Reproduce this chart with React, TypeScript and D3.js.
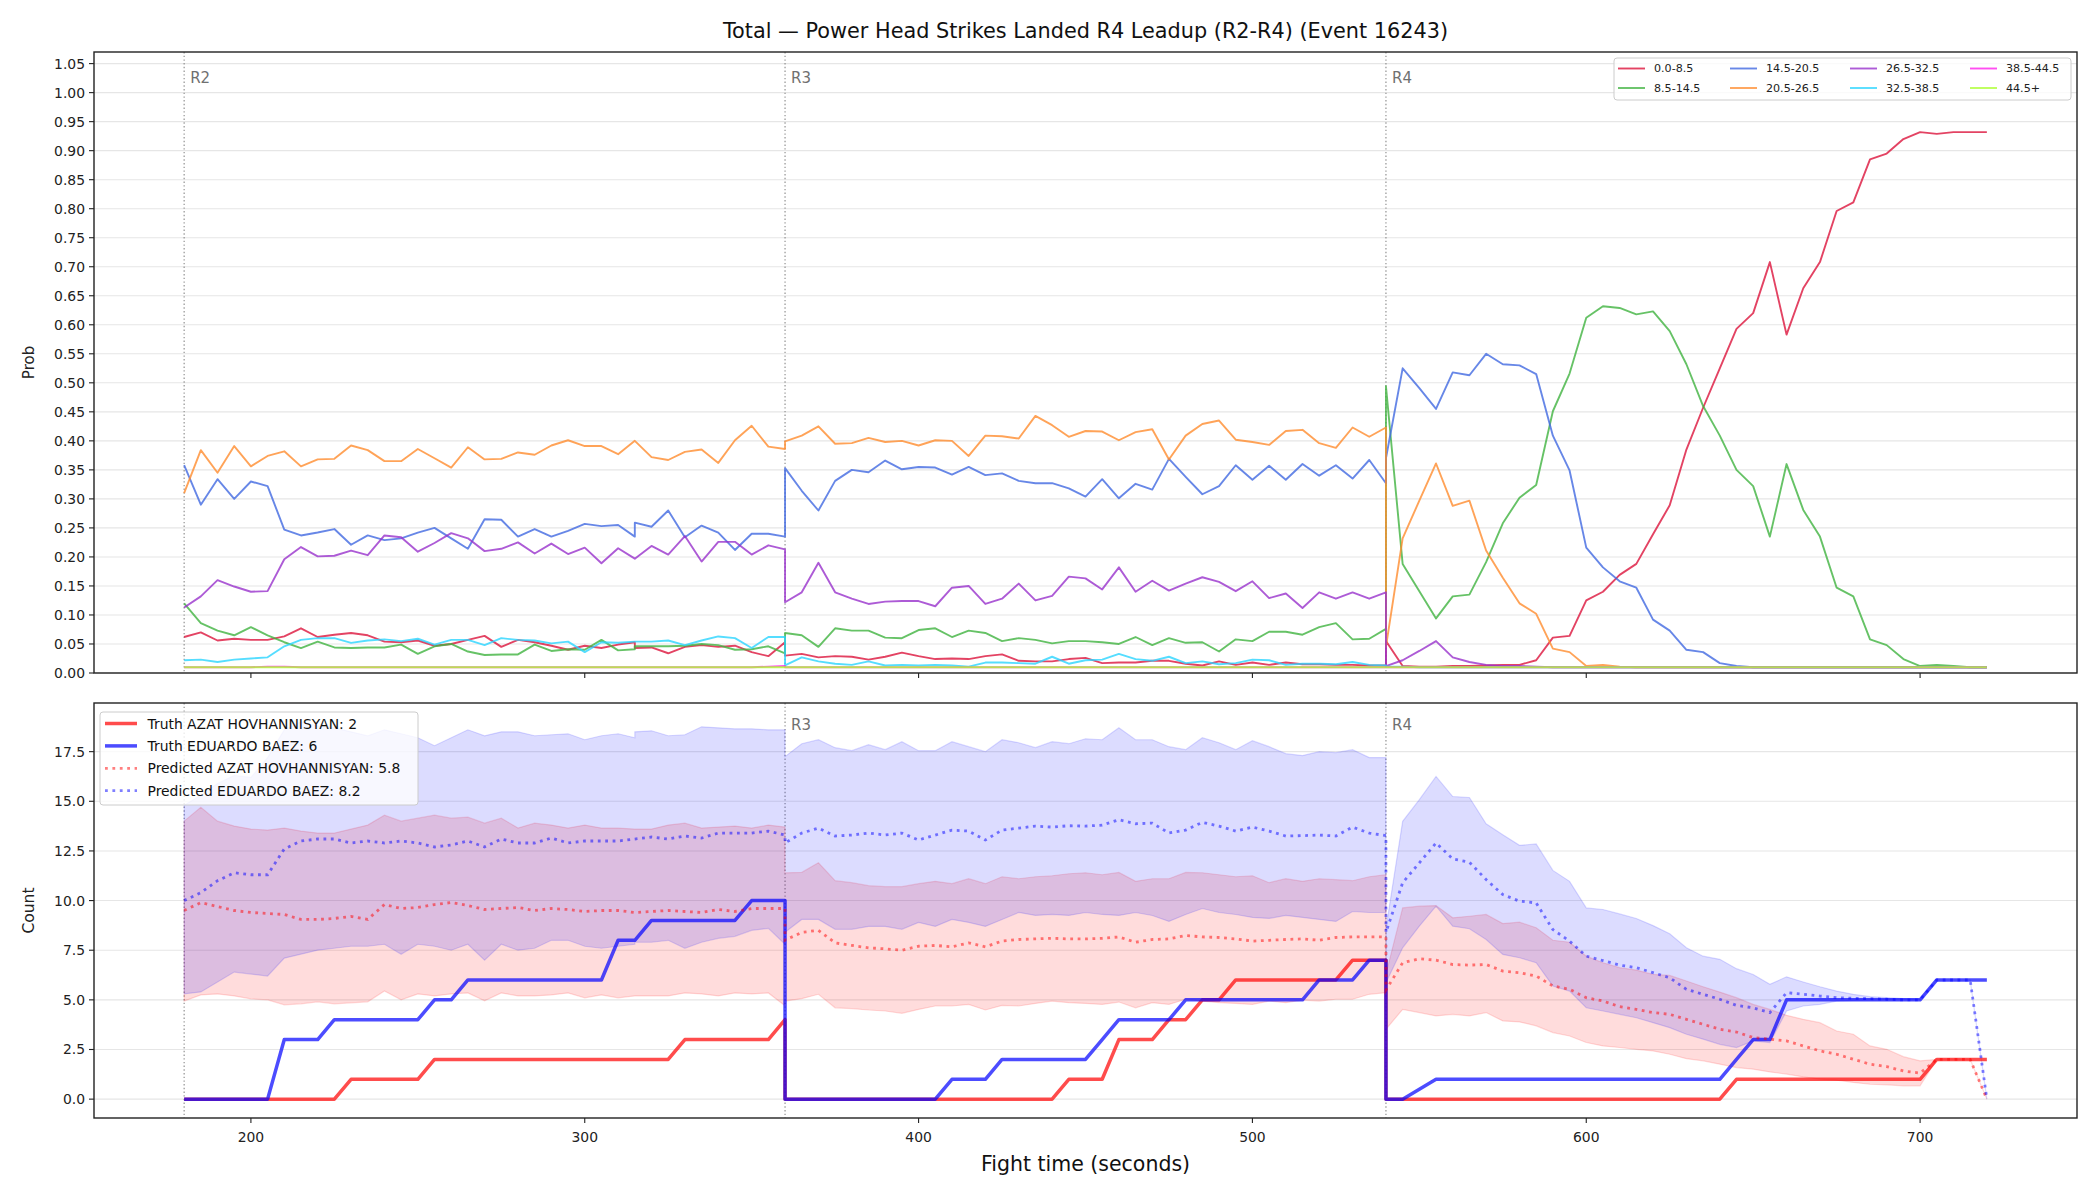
import * as d3 from "d3";

// sample times per round (the R2 feed logged 315 s twice)
const r2Times = [180, 185, 190, 195, 200, 205, 210, 215, 220, 225, 230, 235, 240, 245, 250, 255, 260, 265, 270, 275, 280, 285, 290, 295, 300, 305, 310, 315, 315, 320, 325, 330, 335, 340, 345, 350, 355, 360];
const r3Times = [360, 365, 370, 375, 380, 385, 390, 395, 400, 405, 410, 415, 420, 425, 430, 435, 440, 445, 450, 455, 460, 465, 470, 475, 480, 485, 490, 495, 500, 505, 510, 515, 520, 525, 530, 535, 540];
const r4Times = [540, 545, 550, 555, 560, 565, 570, 575, 580, 585, 590, 595, 600, 605, 610, 615, 620, 625, 630, 635, 640, 645, 650, 655, 660, 665, 670, 675, 680, 685, 690, 695, 700, 705, 710, 715, 720];

const roundStarts = [180, 360, 540];
const roundNames = ["R2", "R3", "R4"];

const probBins = ["0.0-8.5", "8.5-14.5", "14.5-20.5", "20.5-26.5", "26.5-32.5", "32.5-38.5", "38.5-44.5", "44.5+"];
const binColors = ["#dc143c", "#40b340", "#4169e1", "#ff8c2e", "#9932cc", "#2ad4ff", "#ff22ee", "#adff2f"];

// probability per total-strikes bin, round 2
const bin0R2 = [0.062, 0.070, 0.056, 0.059, 0.057, 0.057, 0.063, 0.077, 0.062, 0.066, 0.069, 0.065, 0.054, 0.053, 0.056, 0.047, 0.050, 0.057, 0.064, 0.045, 0.057, 0.053, 0.047, 0.040, 0.047, 0.043, 0.049, 0.053, 0.043, 0.044, 0.034, 0.045, 0.048, 0.045, 0.047, 0.036, 0.029, 0.053];
const bin1R2 = [0.120, 0.086, 0.073, 0.065, 0.079, 0.065, 0.053, 0.043, 0.054, 0.044, 0.043, 0.044, 0.044, 0.049, 0.033, 0.046, 0.050, 0.037, 0.031, 0.032, 0.032, 0.049, 0.038, 0.041, 0.040, 0.057, 0.039, 0.041, 0.046, 0.046, 0.046, 0.047, 0.050, 0.048, 0.040, 0.041, 0.046, 0.034];
const bin2R2 = [0.358, 0.290, 0.334, 0.300, 0.330, 0.322, 0.247, 0.237, 0.242, 0.248, 0.221, 0.237, 0.229, 0.232, 0.242, 0.250, 0.232, 0.214, 0.265, 0.264, 0.235, 0.248, 0.235, 0.245, 0.257, 0.253, 0.255, 0.235, 0.259, 0.252, 0.280, 0.234, 0.254, 0.242, 0.212, 0.240, 0.240, 0.235];
const bin3R2 = [0.310, 0.384, 0.345, 0.391, 0.356, 0.374, 0.382, 0.356, 0.368, 0.369, 0.392, 0.384, 0.365, 0.365, 0.386, 0.370, 0.354, 0.389, 0.368, 0.369, 0.380, 0.376, 0.392, 0.401, 0.391, 0.391, 0.377, 0.400, 0.400, 0.372, 0.367, 0.381, 0.385, 0.362, 0.401, 0.426, 0.390, 0.386];
const bin4R2 = [0.113, 0.132, 0.160, 0.149, 0.140, 0.141, 0.196, 0.217, 0.201, 0.202, 0.211, 0.203, 0.237, 0.234, 0.209, 0.224, 0.241, 0.232, 0.210, 0.214, 0.225, 0.206, 0.223, 0.205, 0.216, 0.189, 0.215, 0.197, 0.197, 0.219, 0.204, 0.236, 0.192, 0.226, 0.226, 0.204, 0.220, 0.213];
const bin5R2 = [0.022, 0.023, 0.019, 0.023, 0.025, 0.027, 0.046, 0.057, 0.060, 0.060, 0.052, 0.056, 0.058, 0.055, 0.059, 0.049, 0.057, 0.057, 0.048, 0.060, 0.057, 0.056, 0.051, 0.054, 0.036, 0.053, 0.052, 0.054, 0.054, 0.054, 0.056, 0.048, 0.056, 0.063, 0.060, 0.043, 0.062, 0.062];
const bin6R2 = [0.010, 0.010, 0.010, 0.010, 0.010, 0.011, 0.011, 0.010, 0.010, 0.010, 0.010, 0.010, 0.010, 0.010, 0.010, 0.010, 0.010, 0.010, 0.010, 0.010, 0.010, 0.010, 0.010, 0.010, 0.010, 0.010, 0.010, 0.010, 0.010, 0.010, 0.010, 0.010, 0.010, 0.010, 0.010, 0.010, 0.011, 0.012];
const bin7R2 = [0.010, 0.010, 0.010, 0.010, 0.010, 0.010, 0.010, 0.010, 0.010, 0.010, 0.010, 0.010, 0.010, 0.010, 0.010, 0.010, 0.010, 0.010, 0.010, 0.010, 0.010, 0.010, 0.010, 0.010, 0.010, 0.010, 0.010, 0.010, 0.010, 0.010, 0.010, 0.010, 0.010, 0.010, 0.010, 0.010, 0.010, 0.010];

// round 3
const bin0R3 = [0.030, 0.033, 0.027, 0.029, 0.028, 0.023, 0.028, 0.035, 0.029, 0.024, 0.025, 0.024, 0.029, 0.032, 0.021, 0.020, 0.020, 0.024, 0.026, 0.017, 0.018, 0.018, 0.021, 0.021, 0.016, 0.013, 0.020, 0.014, 0.018, 0.014, 0.018, 0.015, 0.015, 0.014, 0.014, 0.013, 0.013];
const bin1R3 = [0.069, 0.065, 0.045, 0.077, 0.073, 0.073, 0.061, 0.060, 0.074, 0.077, 0.062, 0.073, 0.069, 0.055, 0.060, 0.057, 0.051, 0.055, 0.055, 0.053, 0.050, 0.062, 0.048, 0.060, 0.052, 0.053, 0.037, 0.058, 0.055, 0.071, 0.071, 0.066, 0.079, 0.086, 0.058, 0.059, 0.076];
const bin2R3 = [0.353, 0.314, 0.280, 0.331, 0.350, 0.346, 0.366, 0.351, 0.355, 0.354, 0.342, 0.355, 0.341, 0.344, 0.331, 0.327, 0.327, 0.318, 0.304, 0.334, 0.301, 0.326, 0.316, 0.369, 0.338, 0.308, 0.322, 0.358, 0.333, 0.357, 0.333, 0.360, 0.340, 0.358, 0.335, 0.367, 0.327];
const bin3R3 = [0.399, 0.409, 0.425, 0.395, 0.396, 0.405, 0.398, 0.400, 0.392, 0.401, 0.400, 0.374, 0.409, 0.408, 0.404, 0.443, 0.427, 0.407, 0.417, 0.416, 0.401, 0.415, 0.420, 0.368, 0.409, 0.429, 0.435, 0.402, 0.398, 0.393, 0.417, 0.419, 0.396, 0.388, 0.423, 0.407, 0.423];
const bin4R3 = [0.122, 0.139, 0.190, 0.139, 0.128, 0.119, 0.123, 0.124, 0.124, 0.115, 0.147, 0.150, 0.119, 0.128, 0.154, 0.125, 0.133, 0.166, 0.163, 0.144, 0.182, 0.140, 0.159, 0.142, 0.154, 0.165, 0.157, 0.141, 0.158, 0.129, 0.137, 0.112, 0.139, 0.128, 0.139, 0.128, 0.139];
const bin5R3 = [0.013, 0.027, 0.020, 0.016, 0.014, 0.020, 0.013, 0.014, 0.013, 0.014, 0.013, 0.011, 0.018, 0.018, 0.017, 0.016, 0.028, 0.016, 0.022, 0.023, 0.033, 0.024, 0.021, 0.028, 0.017, 0.020, 0.015, 0.017, 0.023, 0.022, 0.014, 0.016, 0.016, 0.015, 0.019, 0.014, 0.013];
const bin6R3 = [0.010, 0.010, 0.010, 0.010, 0.010, 0.010, 0.010, 0.010, 0.010, 0.010, 0.010, 0.010, 0.010, 0.010, 0.010, 0.010, 0.010, 0.010, 0.010, 0.010, 0.010, 0.010, 0.010, 0.010, 0.010, 0.010, 0.010, 0.010, 0.010, 0.010, 0.010, 0.010, 0.010, 0.010, 0.010, 0.010, 0.010];
const bin7R3 = [0.010, 0.010, 0.010, 0.010, 0.010, 0.010, 0.010, 0.010, 0.010, 0.010, 0.010, 0.010, 0.010, 0.010, 0.010, 0.010, 0.010, 0.010, 0.010, 0.010, 0.010, 0.010, 0.010, 0.010, 0.010, 0.010, 0.010, 0.010, 0.010, 0.010, 0.010, 0.010, 0.010, 0.010, 0.010, 0.010, 0.010];

// round 4
const bin0R4 = [0.055, 0.012, 0.011, 0.011, 0.012, 0.012, 0.013, 0.014, 0.014, 0.022, 0.061, 0.064, 0.125, 0.140, 0.169, 0.188, 0.239, 0.289, 0.385, 0.457, 0.525, 0.593, 0.620, 0.708, 0.583, 0.663, 0.708, 0.796, 0.811, 0.885, 0.895, 0.920, 0.932, 0.929, 0.932, 0.932, 0.932];
const bin1R4 = [0.494, 0.188, 0.141, 0.094, 0.132, 0.135, 0.191, 0.258, 0.302, 0.324, 0.451, 0.516, 0.612, 0.632, 0.629, 0.618, 0.623, 0.589, 0.532, 0.460, 0.409, 0.350, 0.322, 0.235, 0.360, 0.281, 0.235, 0.147, 0.132, 0.058, 0.048, 0.024, 0.012, 0.014, 0.012, 0.010, 0.010];
const bin2R4 = [0.370, 0.525, 0.491, 0.455, 0.518, 0.513, 0.550, 0.532, 0.530, 0.515, 0.409, 0.349, 0.216, 0.182, 0.158, 0.147, 0.092, 0.073, 0.040, 0.036, 0.017, 0.012, 0.010, 0.010, 0.010, 0.010, 0.010, 0.010, 0.010, 0.010, 0.010, 0.010, 0.010, 0.010, 0.010, 0.010, 0.010];
const bin3R4 = [0.045, 0.232, 0.297, 0.361, 0.288, 0.297, 0.211, 0.164, 0.120, 0.102, 0.042, 0.036, 0.012, 0.014, 0.011, 0.010, 0.010, 0.010, 0.010, 0.010, 0.010, 0.010, 0.010, 0.010, 0.010, 0.010, 0.010, 0.010, 0.010, 0.010, 0.010, 0.010, 0.010, 0.010, 0.010, 0.010, 0.010];
const bin4R4 = [0.012, 0.022, 0.038, 0.055, 0.027, 0.019, 0.014, 0.012, 0.012, 0.011, 0.010, 0.010, 0.010, 0.010, 0.010, 0.010, 0.010, 0.010, 0.010, 0.010, 0.010, 0.010, 0.010, 0.010, 0.010, 0.010, 0.010, 0.010, 0.010, 0.010, 0.010, 0.010, 0.010, 0.010, 0.010, 0.010, 0.010];
const bin5R4 = [0.011, 0.011, 0.010, 0.010, 0.010, 0.010, 0.010, 0.010, 0.010, 0.010, 0.010, 0.010, 0.010, 0.010, 0.010, 0.010, 0.010, 0.010, 0.010, 0.010, 0.010, 0.010, 0.010, 0.010, 0.010, 0.010, 0.010, 0.010, 0.010, 0.010, 0.010, 0.010, 0.010, 0.010, 0.010, 0.010, 0.010];
const bin6R4 = [0.010, 0.010, 0.010, 0.010, 0.010, 0.010, 0.010, 0.010, 0.010, 0.010, 0.010, 0.010, 0.010, 0.010, 0.010, 0.010, 0.010, 0.010, 0.010, 0.010, 0.010, 0.010, 0.010, 0.010, 0.010, 0.010, 0.010, 0.010, 0.010, 0.010, 0.010, 0.010, 0.010, 0.010, 0.010, 0.010, 0.010];
const bin7R4 = [0.010, 0.010, 0.010, 0.010, 0.010, 0.010, 0.010, 0.010, 0.010, 0.010, 0.010, 0.010, 0.010, 0.010, 0.010, 0.010, 0.010, 0.010, 0.010, 0.010, 0.010, 0.010, 0.010, 0.010, 0.010, 0.010, 0.010, 0.010, 0.010, 0.010, 0.010, 0.010, 0.010, 0.010, 0.010, 0.010, 0.010];

// cumulative counts, Hovhannisyan (red) and Baez (blue)
const azatTruthR2 = [0, 0, 0, 0, 0, 0, 0, 0, 0, 0, 1, 1, 1, 1, 1, 2, 2, 2, 2, 2, 2, 2, 2, 2, 2, 2, 2, 2, 2, 2, 2, 3, 3, 3, 3, 3, 3, 4];
const baezTruthR2 = [0, 0, 0, 0, 0, 0, 3, 3, 3, 4, 4, 4, 4, 4, 4, 5, 5, 6, 6, 6, 6, 6, 6, 6, 6, 6, 8, 8, 8, 9, 9, 9, 9, 9, 9, 10, 10, 10];
const azatPredR2 = [9.5, 9.9, 9.7, 9.5, 9.4, 9.35, 9.3, 9.05, 9.05, 9.1, 9.2, 9.05, 9.8, 9.6, 9.65, 9.8, 9.9, 9.75, 9.55, 9.6, 9.65, 9.5, 9.6, 9.55, 9.45, 9.5, 9.5, 9.4, 9.4, 9.45, 9.5, 9.45, 9.4, 9.55, 9.45, 9.6, 9.6, 9.6];
const baezPredR2 = [10.0, 10.4, 11.0, 11.4, 11.3, 11.3, 12.6, 13.0, 13.1, 13.1, 12.9, 13.0, 12.9, 13.0, 12.9, 12.7, 12.8, 13.0, 12.7, 13.1, 12.9, 12.9, 13.15, 12.9, 13.0, 13.0, 13.0, 13.1, 13.1, 13.2, 13.1, 13.25, 13.15, 13.4, 13.4, 13.4, 13.5, 13.3];
const azatLowR2 = [4.94, 5.25, 5.3, 5.2, 5.05, 5.0, 4.75, 4.8, 4.9, 4.8, 4.85, 4.9, 5.45, 5.0, 5.3, 5.2, 5.3, 5.35, 4.95, 5.35, 5.2, 5.2, 5.25, 5.35, 5.1, 5.25, 5.1, 5.2, 5.2, 5.2, 5.2, 5.35, 5.3, 5.2, 5.35, 5.3, 5.35, 4.7];
const azatHighR2 = [14.0, 14.7, 14.0, 13.75, 13.6, 13.55, 13.65, 13.5, 13.4, 13.4, 13.6, 13.8, 14.3, 14.0, 14.15, 14.3, 14.15, 14.2, 13.9, 14.15, 13.65, 13.9, 13.8, 13.65, 13.8, 13.65, 13.65, 13.6, 13.6, 13.6, 13.8, 13.9, 13.65, 13.7, 13.75, 13.65, 13.8, 13.7];
const baezLowR2 = [5.3, 5.4, 5.9, 6.4, 6.3, 6.2, 7.1, 7.3, 7.5, 7.6, 7.7, 7.7, 7.8, 7.3, 7.8, 7.7, 7.5, 7.8, 7.0, 7.8, 7.5, 7.6, 8.0, 8.0, 7.7, 7.6, 7.7, 7.8, 7.9, 7.9, 8.0, 7.6, 7.9, 8.1, 8.2, 8.5, 8.6, 7.8];
const baezHighR2 = [14.8, 15.3, 15.9, 16.3, 16.2, 17.2, 18.6, 19.0, 18.8, 18.7, 18.5, 18.3, 18.6, 18.4, 18.2, 17.8, 18.2, 18.6, 18.3, 18.5, 18.5, 18.3, 18.35, 18.4, 18.1, 18.3, 18.4, 18.2, 18.5, 18.55, 18.3, 18.35, 18.75, 18.7, 18.65, 18.65, 18.6, 18.6];

const azatTruthR3 = [0, 0, 0, 0, 0, 0, 0, 0, 0, 0, 0, 0, 0, 0, 0, 0, 0, 1, 1, 1, 3, 3, 3, 4, 4, 5, 5, 6, 6, 6, 6, 6, 6, 6, 7, 7, 7];
const baezTruthR3 = [0, 0, 0, 0, 0, 0, 0, 0, 0, 0, 1, 1, 1, 2, 2, 2, 2, 2, 2, 3, 4, 4, 4, 4, 5, 5, 5, 5, 5, 5, 5, 5, 6, 6, 6, 7, 7];
const azatPredR3 = [8.0, 8.4, 8.5, 7.87, 7.74, 7.62, 7.57, 7.5, 7.7, 7.74, 7.67, 7.87, 7.67, 7.96, 8.04, 8.07, 8.1, 8.07, 8.07, 8.1, 8.17, 7.9, 8.04, 8.07, 8.24, 8.17, 8.14, 8.07, 7.96, 8.0, 8.04, 8.07, 8.0, 8.14, 8.17, 8.17, 8.17];
const baezPredR3 = [12.9, 13.4, 13.65, 13.25, 13.3, 13.4, 13.3, 13.4, 13.05, 13.3, 13.55, 13.5, 13.05, 13.55, 13.65, 13.75, 13.7, 13.77, 13.75, 13.8, 14.07, 13.87, 13.9, 13.4, 13.55, 13.94, 13.75, 13.5, 13.7, 13.5, 13.25, 13.27, 13.3, 13.25, 13.7, 13.4, 13.27];
const azatLowR3 = [4.94, 5.06, 5.28, 4.6, 4.56, 4.49, 4.44, 4.32, 4.52, 4.69, 4.69, 4.77, 4.49, 4.72, 4.69, 4.82, 4.94, 4.86, 4.82, 4.77, 4.89, 4.6, 4.86, 4.77, 5.03, 4.94, 4.86, 4.82, 4.77, 4.94, 4.86, 4.99, 4.94, 5.03, 5.03, 5.28, 5.36];
const azatHighR3 = [11.4, 11.42, 11.9, 11.0, 10.9, 10.75, 10.7, 10.7, 10.85, 10.97, 10.85, 11.1, 10.85, 11.2, 11.1, 11.2, 11.25, 11.35, 11.4, 11.3, 11.42, 10.97, 11.1, 11.1, 11.42, 11.4, 11.3, 11.2, 11.25, 10.9, 11.1, 10.97, 11.1, 11.05, 11.0, 11.2, 11.3];
const baezLowR3 = [8.4, 9.05, 9.05, 8.55, 8.55, 8.7, 8.7, 8.55, 8.9, 8.7, 9.05, 8.9, 8.7, 9.05, 9.4, 9.25, 9.3, 9.25, 9.4, 9.3, 9.25, 9.4, 9.25, 8.95, 9.3, 9.6, 9.4, 9.3, 9.15, 9.1, 9.25, 9.15, 9.05, 8.95, 9.45, 9.4, 9.4];
const baezHighR3 = [17.25, 17.9, 18.1, 17.7, 17.55, 17.85, 17.6, 18.0, 17.55, 17.55, 18.0, 17.75, 17.5, 18.1, 17.95, 17.7, 18.0, 17.9, 18.15, 18.1, 18.7, 18.1, 18.1, 17.75, 17.6, 18.2, 17.95, 17.6, 18.05, 17.75, 17.4, 17.3, 17.5, 17.45, 17.6, 17.2, 17.2];

const azatTruthR4 = [0, 0, 0, 0, 0, 0, 0, 0, 0, 0, 0, 0, 0, 0, 0, 0, 0, 0, 0, 0, 0, 1, 1, 1, 1, 1, 1, 1, 1, 1, 1, 1, 1, 2, 2, 2, 2];
const baezTruthR4 = [0, 0, 0.5, 1, 1, 1, 1, 1, 1, 1, 1, 1, 1, 1, 1, 1, 1, 1, 1, 1, 1, 2, 3, 3, 5, 5, 5, 5, 5, 5, 5, 5, 5, 6, 6, 6, 6];
const azatPredR4 = [5.5, 6.87, 7.07, 7.0, 6.78, 6.75, 6.78, 6.45, 6.37, 6.2, 5.7, 5.53, 5.11, 4.94, 4.66, 4.52, 4.36, 4.27, 4.02, 3.77, 3.52, 3.38, 3.1, 3.02, 2.93, 2.68, 2.43, 2.26, 2.01, 1.76, 1.64, 1.42, 1.31, 2, 2, 2, 0];
const baezPredR4 = [8.4, 10.9, 11.9, 12.9, 12.1, 11.93, 11.06, 10.3, 9.97, 9.88, 8.54, 7.96, 7.2, 6.98, 6.75, 6.62, 6.37, 6.11, 5.53, 5.28, 5.03, 4.72, 4.6, 4.36, 5.36, 5.28, 5.19, 5.11, 5.08, 5.06, 5.03, 5.0, 5.0, 6, 6, 6, 0];
const azatLowR4 = [3.52, 4.52, 4.36, 4.19, 4.27, 4.19, 4.36, 3.94, 3.89, 3.69, 3.35, 3.18, 2.85, 2.68, 2.6, 2.51, 2.43, 2.26, 2.04, 1.93, 1.76, 1.59, 1.51, 1.37, 1.26, 1.12, 1.01, 0.95, 0.84, 0.75, 0.72, 0.67, 0.67, 2, 2, 2, 0];
const azatHighR4 = [6.3, 9.63, 9.72, 9.75, 9.13, 9.21, 9.3, 8.84, 8.91, 8.63, 8.0, 7.9, 7.2, 6.87, 6.62, 6.5, 6.28, 6.23, 5.95, 5.66, 5.39, 5.11, 4.77, 4.52, 4.22, 4.02, 3.85, 3.43, 3.27, 2.68, 2.51, 2.14, 1.93, 2, 2, 2, 0];
const baezLowR4 = [5.86, 7.62, 8.71, 9.72, 8.71, 8.58, 8.04, 7.29, 7.12, 6.87, 5.7, 5.44, 4.6, 4.44, 4.27, 4.1, 3.85, 3.6, 3.27, 3.02, 2.76, 2.6, 2.93, 2.85, 4.44, 4.69, 4.77, 4.94, 4.97, 4.99, 5.0, 5.0, 5.0, 6, 6, 6, 0];
const baezHighR4 = [8.6, 13.99, 15.08, 16.25, 15.24, 15.19, 13.87, 13.32, 12.78, 12.85, 11.52, 10.97, 9.63, 9.55, 9.33, 9.1, 8.74, 8.33, 7.62, 7.2, 7.04, 6.57, 6.28, 5.78, 6.16, 5.9, 5.66, 5.44, 5.28, 5.16, 5.11, 5.06, 5.03, 6, 6, 6, 0];

const fighterNames = ["AZAT HOVHANNISYAN", "EDUARDO BAEZ"];
const fighterColors = ["#ff0000", "#0000ff"];
const predictedTotals = [5.8, 8.2];

const probTicks = d3.range(0, 21.5).map((i) => i * 0.05);
const countTicks = [0, 2.5, 5, 7.5, 10, 12.5, 15, 17.5];
const timeTicks = [200, 300, 400, 500, 600, 700];

const FONT = "'DejaVu Sans', sans-serif";

const allTimes = [...r2Times, ...r3Times, ...r4Times];
const joinRounds = (a: number[], b: number[], c: number[]) => [...a, ...b, ...c];

const probR2 = [bin0R2, bin1R2, bin2R2, bin3R2, bin4R2, bin5R2, bin6R2, bin7R2];
const probR3 = [bin0R3, bin1R3, bin2R3, bin3R3, bin4R3, bin5R3, bin6R3, bin7R3];
const probR4 = [bin0R4, bin1R4, bin2R4, bin3R4, bin4R4, bin5R4, bin6R4, bin7R4];

const fighters = [
  {
    truth: joinRounds(azatTruthR2, azatTruthR3, azatTruthR4),
    pred: joinRounds(azatPredR2, azatPredR3, azatPredR4),
    low: joinRounds(azatLowR2, azatLowR3, azatLowR4),
    high: joinRounds(azatHighR2, azatHighR3, azatHighR4)
  },
  {
    truth: joinRounds(baezTruthR2, baezTruthR3, baezTruthR4),
    pred: joinRounds(baezPredR2, baezPredR3, baezPredR4),
    low: joinRounds(baezLowR2, baezLowR3, baezLowR4),
    high: joinRounds(baezHighR2, baezHighR3, baezHighR4)
  }
];

const left = 94;
const right = 2077;
const probTop = 52;
const probBottom = 673;
const countTop = 703;
const countBottom = 1118;

export default function App() {
  const x = d3.scaleLinear().domain([153, 747]).range([left, right]);
  const yProb = d3.scaleLinear().domain([0, 1.07]).range([probBottom, probTop]);
  const yCount = d3.scaleLinear().domain([-0.95, 19.95]).range([countBottom, countTop]);

  const probLine = (values: number[]) =>
    d3.line<number>().x((_, i) => x(allTimes[i])).y((d) => yProb(d))(values) ?? "";
  const countLine = (values: number[]) =>
    d3.line<number>().x((_, i) => x(allTimes[i])).y((d) => yCount(d))(values) ?? "";
  const band = (low: number[], high: number[]) =>
    d3
      .area<number>()
      .x((t) => x(t))
      .y0((_, i) => yCount(low[i]))
      .y1((_, i) => yCount(high[i]))(allTimes) ?? "";

  const fmt2 = d3.format(".2f");
  const fmt1 = d3.format(".1f");

  const gridColor = "#e6e6e6";
  const spine = "#222";

  const roundLines = (y0: number, y1: number) =>
    roundStarts.map((t) => (
      <line key={`rl-${t}-${y0}`} x1={x(t)} x2={x(t)} y1={y0} y2={y1} stroke="#888" strokeWidth={1.1} strokeDasharray="1.4,2.3" />
    ));

  const frame = (y0: number, y1: number) => (
    <rect x={left} y={y0} width={right - left} height={y1 - y0} fill="none" stroke={spine} strokeWidth={1.4} />
  );

  const xTickMarks = (yb: number) =>
    timeTicks.map((t) => <line key={`xt-${t}-${yb}`} x1={x(t)} x2={x(t)} y1={yb} y2={yb + 5} stroke={spine} strokeWidth={1.1} />);

  // top legend layout: 4 columns x 2 rows, filled column-wise
  const legendCols = [1618, 1730, 1850, 1970];
  const legendRows = [68.5, 88];

  return (
    <div style={{ position: "fixed", left: 0, top: 0 }}>
      <svg width={2100} height={1200} viewBox="0 0 2100 1200" style={{ display: "block", background: "#fff" }} fontFamily={FONT}>
        <defs>
          <clipPath id="probClip">
            <rect x={left} y={probTop} width={right - left} height={probBottom - probTop} />
          </clipPath>
          <clipPath id="countClip">
            <rect x={left} y={countTop} width={right - left} height={countBottom - countTop} />
          </clipPath>
        </defs>

        <text x={(left + right) / 2} y={31} textAnchor="middle" dominantBaseline="central" fontSize={20.8} fill="#111">
          Total — Power Head Strikes Landed R4 Leadup (R2-R4) (Event 16243)
        </text>

        {/* probability panel */}
        <g>
          {probTicks.map((p) => (
            <line key={`pg-${p}`} x1={left} x2={right} y1={yProb(p)} y2={yProb(p)} stroke={gridColor} strokeWidth={1.1} />
          ))}
          {roundLines(probTop, probBottom)}
          {roundNames.map((r, i) => (
            <text key={`pr-${r}`} x={x(roundStarts[i]) + 6} y={78} dominantBaseline="central" fontSize={15} fill="#707070">
              {r}
            </text>
          ))}
          <g clipPath="url(#probClip)">
            {probBins.map((b, i) => (
              <path
                key={`pl-${b}`}
                d={probLine(joinRounds(probR2[i], probR3[i], probR4[i]))}
                fill="none"
                stroke={binColors[i]}
                strokeOpacity={0.8}
                strokeWidth={1.9}
                strokeLinejoin="round"
              />
            ))}
          </g>
          {frame(probTop, probBottom)}
          {probTicks.map((p) => (
            <g key={`pt-${p}`}>
              <line x1={left - 5} x2={left} y1={yProb(p)} y2={yProb(p)} stroke={spine} strokeWidth={1.1} />
              <text x={left - 9} y={yProb(p)} textAnchor="end" dominantBaseline="central" fontSize={13.9} fill="#222">
                {fmt2(p)}
              </text>
            </g>
          ))}
          {xTickMarks(probBottom)}
          <text transform={`translate(29,${(probTop + probBottom) / 2}) rotate(-90)`} textAnchor="middle" dominantBaseline="central" fontSize={15} fill="#222">
            Prob
          </text>

          <rect x={1614} y={58} width={457} height={42} rx={3} fill="#fff" fillOpacity={0.8} stroke="#cccccc" strokeWidth={1} />
          {probBins.map((b, i) => {
            const cx = legendCols[Math.floor(i / 2)];
            const cy = legendRows[i % 2];
            return (
              <g key={`lg-${b}`}>
                <line x1={cx} x2={cx + 27} y1={cy} y2={cy} stroke={binColors[i]} strokeOpacity={0.8} strokeWidth={1.9} />
                <text x={cx + 36} y={cy} dominantBaseline="central" fontSize={11.1} fill="#222">
                  {b}
                </text>
              </g>
            );
          })}
        </g>

        {/* count panel; the R2 marker here sits under the legend, so only R3 and R4 are labelled */}
        <g>
          {countTicks.map((c) => (
            <line key={`cg-${c}`} x1={left} x2={right} y1={yCount(c)} y2={yCount(c)} stroke={gridColor} strokeWidth={1.1} />
          ))}
          {roundLines(countTop, countBottom)}
          {roundNames.slice(1).map((r, i) => (
            <text key={`cr-${r}`} x={x(roundStarts[i + 1]) + 6} y={724.5} dominantBaseline="central" fontSize={15} fill="#707070">
              {r}
            </text>
          ))}
          <g clipPath="url(#countClip)">
            {fighters.map((f, i) => (
              <path
                key={`band-${i}`}
                d={band(f.low, f.high)}
                fill={fighterColors[i]}
                fillOpacity={0.137}
                stroke={fighterColors[i]}
                strokeOpacity={0.14}
                strokeWidth={1.2}
              />
            ))}
            {fighters.map((f, i) => (
              <path
                key={`truth-${i}`}
                d={countLine(f.truth)}
                fill="none"
                stroke={fighterColors[i]}
                strokeOpacity={0.7}
                strokeWidth={3.5}
                strokeLinejoin="round"
              />
            ))}
            {fighters.map((f, i) => (
              <path
                key={`pred-${i}`}
                d={countLine(f.pred)}
                fill="none"
                stroke={fighterColors[i]}
                strokeOpacity={0.5}
                strokeWidth={2.8}
                strokeDasharray="2.8,4.6"
              />
            ))}
          </g>
          {frame(countTop, countBottom)}
          {countTicks.map((c) => (
            <g key={`ct-${c}`}>
              <line x1={left - 5} x2={left} y1={yCount(c)} y2={yCount(c)} stroke={spine} strokeWidth={1.1} />
              <text x={left - 9} y={yCount(c)} textAnchor="end" dominantBaseline="central" fontSize={13.9} fill="#222">
                {fmt1(c)}
              </text>
            </g>
          ))}
          {xTickMarks(countBottom)}
          {timeTicks.map((t) => (
            <text key={`xl-${t}`} x={x(t)} y={1137} textAnchor="middle" dominantBaseline="central" fontSize={13.9} fill="#222">
              {t}
            </text>
          ))}
          <text transform={`translate(29,${(countTop + countBottom) / 2}) rotate(-90)`} textAnchor="middle" dominantBaseline="central" fontSize={15.5} fill="#222">
            Count
          </text>
          <text x={(left + right) / 2} y={1164} textAnchor="middle" dominantBaseline="central" fontSize={20.5} fill="#111">
            Fight time (seconds)
          </text>

          <rect x={100} y={712} width={318} height={93} rx={3} fill="#fff" fillOpacity={0.8} stroke="#cccccc" strokeWidth={1} />
          {fighterNames.map((n, i) => {
            const truth = fighters[i].truth;
            const cy = 723.5 + i * 22.4;
            return (
              <g key={`lt-${n}`}>
                <line x1={105} x2={137} y1={cy} y2={cy} stroke={fighterColors[i]} strokeOpacity={0.7} strokeWidth={3.5} />
                <text x={147.5} y={cy} dominantBaseline="central" fontSize={13.9} fill="#111">
                  {`Truth ${n}: ${truth[truth.length - 1]}`}
                </text>
              </g>
            );
          })}
          {fighterNames.map((n, i) => {
            const cy = 723.5 + (i + 2) * 22.4;
            return (
              <g key={`lp-${n}`}>
                <line x1={105} x2={137} y1={cy} y2={cy} stroke={fighterColors[i]} strokeOpacity={0.5} strokeWidth={2.8} strokeDasharray="2.8,4.6" />
                <text x={147.5} y={cy} dominantBaseline="central" fontSize={13.9} fill="#111">
                  {`Predicted ${n}: ${predictedTotals[i]}`}
                </text>
              </g>
            );
          })}
        </g>
      </svg>
    </div>
  );
}
